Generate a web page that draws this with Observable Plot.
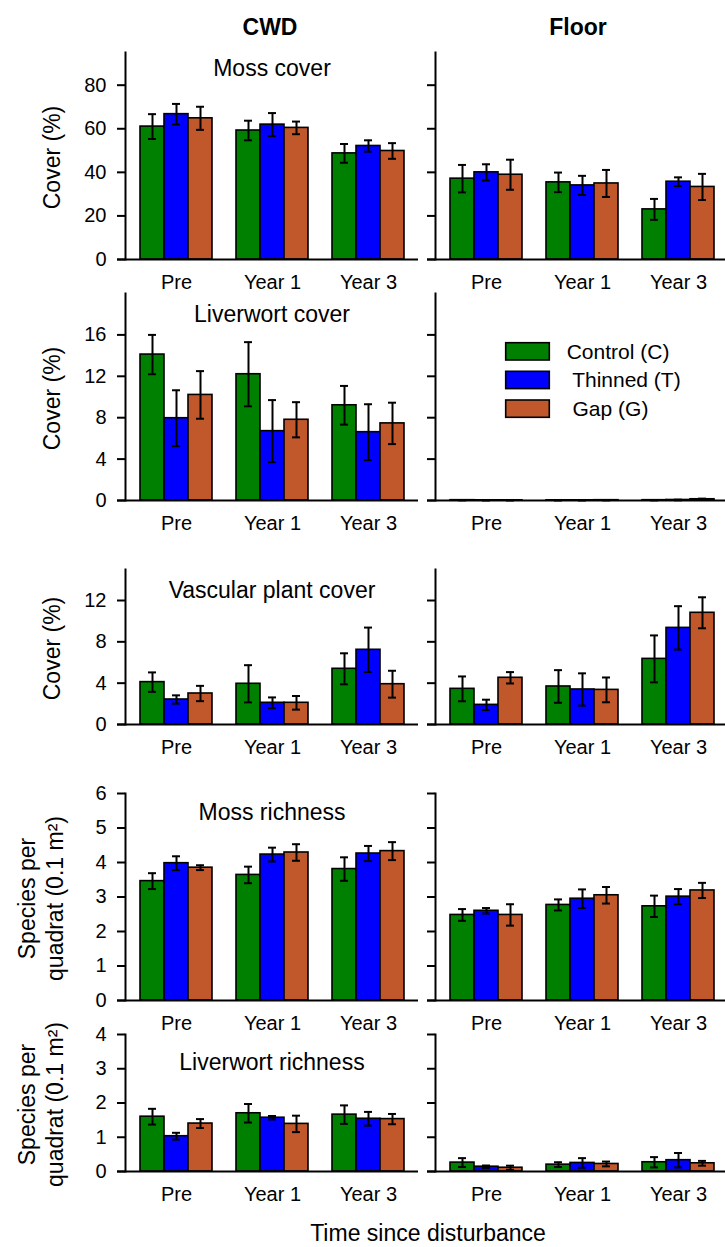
<!DOCTYPE html>
<html>
<head>
<meta charset="utf-8">
<script src="https://cdn.jsdelivr.net/npm/d3@7"></script>
<script src="https://cdn.jsdelivr.net/npm/@observablehq/plot@0.6"></script>
<style>
  html, body { margin: 0; padding: 0; background: white; }
  #chart { position: relative; width: 725px; height: 1247px; font-family: "Liberation Sans", Arial, Helvetica, sans-serif; }
  #chart svg { position: absolute; }
</style>
</head>
<body>
<div id="chart"></div>
<script>
// ---------- data ----------
const periods = ["Pre", "Year 1", "Year 3"];
const treatments = ["Control (C)", "Thinned (T)", "Gap (G)"];
const treatmentColors = ["#008000", "#0000ff", "#c1582c"];
const sites = ["CWD", "Floor"];
const legendLabels = ["Control (C)", " Thinned (T)", " Gap (G)"];

// order within each array: Pre C,T,G | Year 1 C,T,G | Year 3 C,T,G
const mossCoverCWD      = [61.0, 66.7, 64.8, 59.2, 61.9, 60.4, 48.7, 52.1, 49.8];
const mossCoverCWDErr   = [5.7, 4.7, 5.3, 4.5, 5.3, 2.9, 4.3, 2.6, 3.6];
const mossCoverFloor    = [37.1, 40.0, 38.9, 35.4, 34.0, 34.9, 23.0, 35.7, 33.3];
const mossCoverFloorErr = [6.3, 3.7, 6.9, 4.5, 4.4, 6.2, 4.8, 2.0, 6.0];

const liverCoverCWD      = [14.1, 7.95, 10.2, 12.2, 6.7, 7.8, 9.2, 6.6, 7.45];
const liverCoverCWDErr   = [1.9, 2.7, 2.3, 3.1, 3.0, 1.7, 1.87, 2.7, 2.0];
const liverCoverFloor    = [0.03, 0.02, 0.02, 0.02, 0.02, 0.03, 0.03, 0.05, 0.12];
const liverCoverFloorErr = [0.02, 0.01, 0.01, 0.01, 0.01, 0.02, 0.02, 0.03, 0.06];

const vascCoverCWD      = [4.1, 2.42, 3.0, 3.94, 2.1, 2.1, 5.39, 7.23, 3.9];
const vascCoverCWDErr   = [0.94, 0.4, 0.74, 1.8, 0.52, 0.66, 1.5, 2.15, 1.3];
const vascCoverFloor    = [3.45, 1.9, 4.52, 3.68, 3.39, 3.35, 6.35, 9.35, 10.81];
const vascCoverFloorErr = [1.2, 0.5, 0.55, 1.58, 1.56, 1.2, 2.27, 2.1, 1.5];

const mossRichCWD      = [3.46, 3.98, 3.85, 3.64, 4.23, 4.29, 3.81, 4.26, 4.33];
const mossRichCWDErr   = [0.23, 0.2, 0.07, 0.24, 0.2, 0.24, 0.34, 0.22, 0.26];
const mossRichFloor    = [2.48, 2.60, 2.48, 2.77, 2.95, 3.05, 2.73, 3.01, 3.19];
const mossRichFloorErr = [0.17, 0.08, 0.31, 0.16, 0.27, 0.24, 0.31, 0.22, 0.22];

const liverRichCWD      = [1.60, 1.03, 1.40, 1.70, 1.57, 1.39, 1.66, 1.54, 1.53];
const liverRichCWDErr   = [0.23, 0.1, 0.13, 0.27, 0.05, 0.24, 0.27, 0.2, 0.15];
const liverRichFloor    = [0.26, 0.14, 0.11, 0.20, 0.25, 0.22, 0.27, 0.33, 0.24];
const liverRichFloorErr = [0.13, 0.035, 0.06, 0.07, 0.14, 0.07, 0.15, 0.21, 0.07];

const titles = ["Moss cover", "Liverwort cover", "Vascular plant cover", "Moss richness", "Liverwort richness"];
const yMax = [95, 20, 15, 6, 4];
const yTicks = [[0, 20, 40, 60, 80], [0, 4, 8, 12, 16], [0, 4, 8, 12], [0, 1, 2, 3, 4, 5, 6], [0, 1, 2, 3, 4]];
const yTitles = [["Cover (%)"], ["Cover (%)"], ["Cover (%)"], ["Species per", "quadrat (0.1 m²)"], ["Species per", "quadrat (0.1 m²)"]];
const xTitle = "Time since disturbance";

const seriesValues = [
  [mossCoverCWD, mossCoverFloor], [liverCoverCWD, liverCoverFloor], [vascCoverCWD, vascCoverFloor],
  [mossRichCWD, mossRichFloor], [liverRichCWD, liverRichFloor]
];
const seriesErrors = [
  [mossCoverCWDErr, mossCoverFloorErr], [liverCoverCWDErr, liverCoverFloorErr], [vascCoverCWDErr, vascCoverFloorErr],
  [mossRichCWDErr, mossRichFloorErr], [liverRichCWDErr, liverRichFloorErr]
];

// ---------- layout ----------
const rowLayout = [
  {top: 52, base: 259, titleDy: 16},
  {top: 293, base: 500, titleDy: 21},
  {top: 569, base: 724, titleDy: 21},
  {top: 793, base: 1000, titleDy: 19},
  {top: 1034, base: 1171, titleDy: 28}
];
const colLayout = [
  {left: 0, width: 420, marginLeft: 125, marginRight: 2, paddingOuter: 0.48, align: 0.5},
  {left: 420, width: 305, marginLeft: 15, marginRight: 0, paddingOuter: 0.43, align: 0.56}
];
const FONT = '"Liberation Sans", Arial, Helvetica, sans-serif';
const MT = 4, MB = 44;

// x band domain: bars of each period, with one spacer slot between periods
const keyOf = (p, t) => p + "|" + t;
const xDomain = periods.flatMap((p, i) => [...(i ? ["spacer" + i] : []), ...treatments.map(t => keyOf(p, t))]);

const chart = document.getElementById("chart");

function panel(r, c) {
  const L = rowLayout[r], C = colLayout[c];
  const vals = seriesValues[r][c], errs = seriesErrors[r][c];
  const data = [];
  periods.forEach((p, i) => treatments.forEach((t, j) => {
    const k = i * treatments.length + j;
    data.push({key: keyOf(p, t), period: p, treatment: t, value: vals[k], err: errs[k]});
  }));
  const marks = [
    Plot.barY(data, {x: "key", y: "value", fill: "treatment", stroke: "black", strokeWidth: 1.6}),
    Plot.ruleX(data, {x: "key", y1: d => d.value - d.err, y2: d => d.value + d.err, stroke: "black", strokeWidth: 2}),
    Plot.tickY(data, {x: "key", y: d => d.value + d.err, insetLeft: 8, insetRight: 8, stroke: "black", strokeWidth: 2}),
    Plot.tickY(data, {x: "key", y: d => d.value - d.err, insetLeft: 8, insetRight: 8, stroke: "black", strokeWidth: 2}),
    Plot.ruleY([0], {insetLeft: -8, stroke: "black", strokeWidth: 2}),
    Plot.frame({anchor: "left", stroke: "black", strokeWidth: 2}),
    Plot.axisY({
      ticks: yTicks[r], tickSize: 8, tickPadding: 11, strokeWidth: 2, label: null,
      fontSize: 20, tickFormat: c === 0 ? (d => String(d)) : (() => "")
    }),
    Plot.axisX({
      ticks: periods.map(p => keyOf(p, treatments[1])), tickSize: 0, tickPadding: 15.5,
      tickFormat: d => d.split("|")[0], label: null, fontSize: 20
    })
  ];
  if (c === 0) {
    marks.push(Plot.text([titles[r]], {frameAnchor: "top", lineAnchor: "middle", dy: L.titleDy, fontSize: 23, fill: "black"}));
  }
  const svg = Plot.plot({
    width: C.width,
    height: (L.base - L.top) + MT + MB,
    marginLeft: C.marginLeft, marginRight: C.marginRight, marginTop: MT, marginBottom: MB,
    x: {type: "band", domain: xDomain, paddingInner: 0, paddingOuter: C.paddingOuter, align: C.align},
    y: {domain: [0, yMax[r]]},
    color: {domain: treatments, range: treatmentColors},
    style: {background: "transparent", fontFamily: FONT, fontSize: "20px", color: "black", overflow: "visible"},
    marks
  });
  svg.style.left = C.left + "px";
  svg.style.top = (L.top - MT) + "px";
  svg.style.maxWidth = "none";
  chart.appendChild(svg);
}

for (let r = 0; r < rowLayout.length; r++) for (let c = 0; c < colLayout.length; c++) panel(r, c);

// ---------- overlay text: headers, axis titles, legend ----------
const ov = d3.select(chart).append("svg")
  .attr("width", 725).attr("height", 1247)
  .style("left", "0px").style("top", "0px").style("overflow", "visible")
  .attr("font-family", FONT).attr("fill", "black");

const headerX = [270, 578];
sites.forEach((s, i) => ov.append("text").attr("x", headerX[i]).attr("y", 27).attr("dy", "0.35em")
  .attr("text-anchor", "middle").attr("font-weight", "bold").attr("font-size", 23).text(s));

yTitles.forEach((lines, r) => {
  const L = rowLayout[r];
  const cy = (L.top + L.base) / 2 + 2;
  const xs = lines.length === 1 ? [52] : [27, 55];
  lines.forEach((line, i) => {
    ov.append("text").attr("transform", `translate(${xs[i]},${cy}) rotate(-90)`)
      .attr("dy", "0.35em").attr("text-anchor", "middle").attr("font-size", 23).text(line);
  });
});

ov.append("text").attr("x", 428).attr("y", 1233).attr("dy", "0.35em").attr("text-anchor", "middle")
  .attr("font-size", 23).text(xTitle);

const legendY = [342.7, 371.3, 400];
treatments.forEach((t, i) => {
  ov.append("rect").attr("x", 505.7).attr("y", legendY[i]).attr("width", 43.6).attr("height", 17.3)
    .attr("fill", treatmentColors[i]).attr("stroke", "black").attr("stroke-width", 1.6);
  ov.append("text").attr("x", 566.7).attr("y", legendY[i] + 8.65).attr("dy", "0.35em")
    .attr("font-size", 21).style("white-space", "pre").attr("xml:space", "preserve").text(legendLabels[i]);
});
</script>
</body>
</html>
